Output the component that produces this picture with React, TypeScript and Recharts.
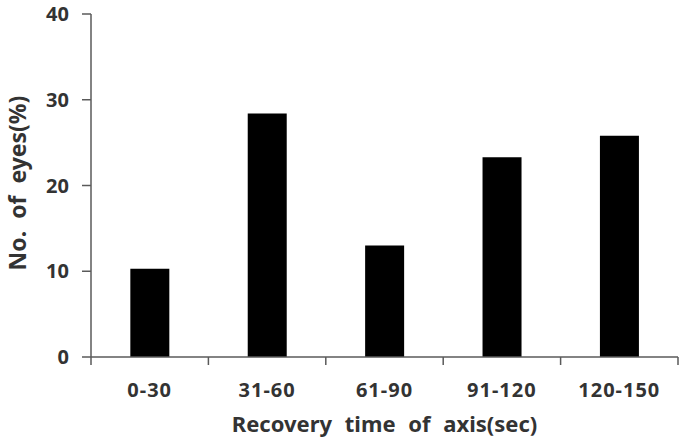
import React from 'react';
import { BarChart, Bar, XAxis, YAxis } from 'recharts';

const categories = ['0-30', '31-60', '61-90', '91-120', '120-150'];
const eyesPercent = [10.3, 28.4, 13.0, 23.3, 25.8];
const yTicks = [0, 10, 20, 30, 40];

const data = categories.map((c, i) => ({ range: c, value: eyesPercent[i] }));

const W = 685;
const H = 438;
const M = { top: 14, right: 7, bottom: 0, left: 0 };
const Y_AXIS_W = 91;
const X_AXIS_H = 81;
const AXIS_COLOR = '#5a5a5a';
const TEXT_COLOR = '#333333';
const FONT = '"Noto Sans", "Open Sans", sans-serif';
const band = (W - M.left - M.right - Y_AXIS_W) / categories.length;

const XTick = (props: any) => {
  const { x, y, payload, index } = props;
  return (
    <g>
      <line x1={x - band / 2} y1={y} x2={x - band / 2} y2={y + 8} stroke={AXIS_COLOR} strokeWidth={1.5} />
      {index === categories.length - 1 && (
        <line x1={x + band / 2} y1={y} x2={x + band / 2} y2={y + 8} stroke={AXIS_COLOR} strokeWidth={1.5} />
      )}
      <text x={x} y={y + 39.5} textAnchor="middle" fill={TEXT_COLOR} fontSize={20} fontWeight="bold" fontFamily={FONT} letterSpacing={1}>
        {payload.value}
      </text>
    </g>
  );
};

const XTitle = (props: any) => {
  const { viewBox } = props;
  const cx = viewBox.x + viewBox.width / 2;
  return (
    <text x={cx} y={432} textAnchor="middle" fill={TEXT_COLOR} fontSize={22} fontWeight="bold" fontFamily={FONT} wordSpacing={7}>
      Recovery time of axis(sec)
    </text>
  );
};

const YTitle = (props: any) => {
  const { viewBox } = props;
  const cy = viewBox.y + viewBox.height / 2 - 2.5;
  const cx = 25.5;
  return (
    <text x={cx} y={cy} transform={`rotate(-90, ${cx}, ${cy})`} textAnchor="middle" fill={TEXT_COLOR} fontSize={23} fontWeight="bold" fontFamily={FONT} wordSpacing={6}>
      No. of eyes(%)
    </text>
  );
};

export default function App() {
  return (
    <div style={{ position: 'absolute', left: 0, top: 0, background: '#fff' }}>
      <BarChart width={W} height={H} data={data} margin={M} barCategoryGap="33.5%">
        <XAxis
          dataKey="range"
          height={X_AXIS_H}
          tickLine={false}
          tickSize={0}
          tickMargin={0}
          axisLine={{ stroke: AXIS_COLOR, strokeWidth: 1.5 }}
          tick={<XTick />}
          interval={0}
          label={<XTitle />}
        />
        <YAxis
          width={Y_AXIS_W}
          domain={[0, 40]}
          ticks={yTicks}
          interval={0}
          tickSize={9}
          tickMargin={13}
          axisLine={{ stroke: AXIS_COLOR, strokeWidth: 1.5 }}
          tickLine={{ stroke: AXIS_COLOR, strokeWidth: 1.5 }}
          tick={{ fill: TEXT_COLOR, fontSize: 20, fontWeight: 'bold', fontFamily: FONT }}
          label={<YTitle />}
        />
        <Bar dataKey="value" fill="#000000" isAnimationActive={false} />
      </BarChart>
    </div>
  );
}
